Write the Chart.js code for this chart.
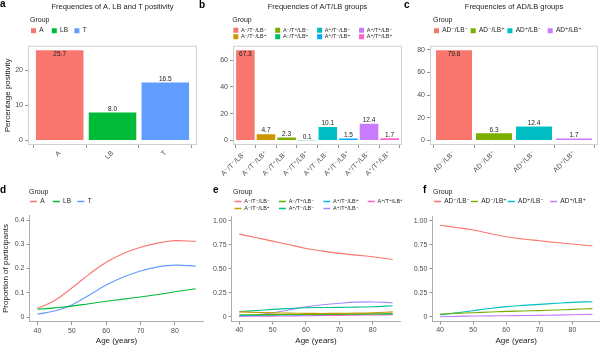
<!DOCTYPE html>
<html>
<head>
<meta charset="utf-8">
<title>A, T and LB positivity</title>
<script src="https://cdn.jsdelivr.net/npm/chart.js@4.4.1/dist/chart.umd.min.js"></script>
<style>
  body { margin: 0; background: #fff; }
  #fig { position: relative; width: 600px; height: 346px; overflow: hidden; font-family: 'Liberation Sans', 'DejaVu Sans', Arial, sans-serif; }
  #fig canvas { position: absolute; }
  .tag { position: absolute; font-weight: bold; font-size: 10px; line-height: 10px; color: #000; }
</style>
</head>
<body>
<div id="fig">
  <canvas id="panelA" width="200" height="176" style="left:0;top:0"></canvas>
  <canvas id="panelB" width="205" height="176" style="left:200px;top:0"></canvas>
  <canvas id="panelC" width="195" height="176" style="left:405px;top:0"></canvas>
  <canvas id="panelD" width="206" height="170" style="left:0;top:176px"></canvas>
  <canvas id="panelE" width="198" height="170" style="left:204px;top:176px"></canvas>
  <canvas id="panelF" width="198" height="170" style="left:402px;top:176px"></canvas>
  <div class="tag" style="left:0;top:-1.5px">a</div>
  <div class="tag" style="left:199px;top:0">b</div>
  <div class="tag" style="left:404px;top:0">c</div>
  <div class="tag" style="left:0;top:185px">d</div>
  <div class="tag" style="left:213px;top:185px">e</div>
  <div class="tag" style="left:423px;top:185px">f</div>
</div>
<script>
const FONT = "'Liberation Sans', 'DejaVu Sans', Arial, sans-serif";
Chart.defaults.font.family = FONT;
Chart.defaults.font.size = 7;
Chart.defaults.color = '#4d4d4d';

// ---- data ----
const groupsA = ['A', 'LB', 'T'];
const pctA = [25.7, 8.0, 16.5];
const colorsA = ['#F8766D', '#00BA38', '#619CFF'];
const ticksA = [0, 10, 20];

const groupsB = ['A⁻/T⁻/LB⁻', 'A⁻/T⁻/LB⁺', 'A⁻/T⁺/LB⁻', 'A⁻/T⁺/LB⁺', 'A⁺/T⁻/LB⁻', 'A⁺/T⁻/LB⁺', 'A⁺/T⁺/LB⁻', 'A⁺/T⁺/LB⁺'];
const pctB = [67.3, 4.7, 2.3, 0.1, 10.1, 1.5, 12.4, 1.7];
const colorsB = ['#F8766D', '#CD9600', '#7CAE00', '#00BE67', '#00BFC4', '#00A9FF', '#C77CFF', '#FF61CC'];
const ticksB = [0, 20, 40, 60];

const groupsC = ['AD⁻/LB⁻', 'AD⁻/LB⁺', 'AD⁺/LB⁻', 'AD⁺/LB⁺'];
const pctC = [79.6, 6.3, 12.4, 1.7];
const colorsC = ['#F8766D', '#7CAE00', '#00BFC4', '#C77CFF'];
const ticksC = [0, 20, 40, 60, 80];

const ages = [40, 45, 50, 55, 60, 65, 70, 75, 80, 86];
const ageTicks = [40, 50, 60, 70, 80];

// d: A, LB, T
const propD = [
  [0.035, 0.068, 0.12, 0.176, 0.226, 0.262, 0.288, 0.305, 0.315, 0.312],
  [0.032, 0.038, 0.045, 0.055, 0.065, 0.074, 0.083, 0.093, 0.104, 0.117],
  [0.012, 0.025, 0.05, 0.09, 0.132, 0.165, 0.19, 0.207, 0.214, 0.21]
];
const ticksD = [0, 0.1, 0.2, 0.3, 0.4];
const tickLabelsD = ['0', '0.1', '0.2', '0.3', '0.4'];

// e: A/T/LB groups (A-/T+/LB+ not shown)
const groupsE = ['A⁻/T⁻/LB⁻', 'A⁻/T⁻/LB⁺', 'A⁻/T⁺/LB⁻', 'A⁺/T⁻/LB⁻', 'A⁺/T⁻/LB⁺', 'A⁺/T⁺/LB⁻', 'A⁺/T⁺/LB⁺'];
const colorsE = ['#F8766D', '#C49A00', '#53B400', '#00C094', '#00B6EB', '#A58AFF', '#FB61D7'];
const propE = [
  [0.861, 0.825, 0.788, 0.75, 0.712, 0.684, 0.66, 0.642, 0.625, 0.597],
  [0.05, 0.045, 0.04, 0.037, 0.035, 0.034, 0.035, 0.037, 0.04, 0.05],
  [0.02, 0.021, 0.022, 0.023, 0.024, 0.025, 0.026, 0.027, 0.028, 0.03],
  [0.052, 0.064, 0.076, 0.086, 0.094, 0.096, 0.097, 0.1, 0.104, 0.115],
  [0.012, 0.014, 0.016, 0.018, 0.02, 0.022, 0.024, 0.026, 0.028, 0.03],
  [0.002, 0.018, 0.04, 0.072, 0.104, 0.124, 0.14, 0.152, 0.154, 0.146],
  [0.004, 0.005, 0.006, 0.008, 0.01, 0.012, 0.014, 0.016, 0.018, 0.02]
];

// f: AD/LB groups
const propF = [
  [0.955, 0.932, 0.906, 0.87, 0.836, 0.812, 0.794, 0.776, 0.76, 0.739],
  [0.028, 0.035, 0.042, 0.049, 0.056, 0.06, 0.064, 0.07, 0.077, 0.084],
  [0.02, 0.04, 0.063, 0.086, 0.105, 0.118, 0.129, 0.14, 0.15, 0.157],
  [0.0, 0.004, 0.007, 0.009, 0.01, 0.012, 0.014, 0.017, 0.021, 0.024]
];
const ticksEF = [0, 0.25, 0.5, 0.75, 1];
const tickLabelsEF = ['0', '0.25', '0.50', '0.75', '1.00'];

// ---- helpers ----
const measure = document.createElement('canvas').getContext('2d');

// pad legend text with spaces so the columns line up like the original
function padLabel(text, size, target) {
  if (!target) return text;
  measure.font = 'normal ' + size + 'px ' + FONT;
  const sp = measure.measureText(' ').width;
  let t = text;
  while (measure.measureText(t + ' ').width <= target + sp / 2) t += ' ';
  return t;
}

// move title over the panel and legend to a fixed spot
const place = {
  id: 'place',
  afterLayout(chart, args, o) {
    const t = chart.titleBlock, lg = chart.legend, a = chart.chartArea;
    if (t && t.options.display) {
      const h = t.height;
      t.top = o.titleTop; t.bottom = o.titleTop + h;
      t.left = a.left; t.right = a.right; t.width = a.right - a.left;
    }
    if (lg) {
      const w = lg.width;
      lg.top = o.legendTop; lg.bottom = o.legendTop + 60;
      lg.left = o.legendLeft; lg.right = o.legendLeft + w;
    }
  }
};

const panelBox = {
  id: 'panelBox',
  afterDatasetsDraw(chart) {
    const { ctx, chartArea: a } = chart;
    ctx.save();
    ctx.strokeStyle = '#d0d0d0';
    ctx.lineWidth = 1;
    ctx.strokeRect(a.left + 0.5, a.top + 0.5, a.right - a.left - 1, a.bottom - a.top - 1);
    ctx.restore();
  }
};

const barLabels = {
  id: 'barLabels',
  afterDatasetsDraw(chart) {
    const ctx = chart.ctx, area = chart.chartArea;
    const meta = chart.getDatasetMeta(0);
    const pts = chart.data.datasets[0].data;
    ctx.save();
    ctx.font = '6.5px ' + FONT;
    ctx.fillStyle = '#222';
    ctx.textAlign = 'center';
    ctx.textBaseline = 'middle';
    meta.data.forEach((bar, i) => {
      let y = bar.y - 3.5;
      if (y < area.top + 6) y = bar.y + 3.5;
      ctx.fillText(pts[i].y.toFixed(1), bar.x, y);
    });
    ctx.restore();
  }
};

const legendTitle = { display: true, text: 'Group', position: 'start', color: '#222', font: { size: 7 }, padding: { top: 0, bottom: 1.5 } };

function barChart(id, cats, vals, colors, yTicks, cfg) {
  const top = Math.max(...vals);
  return new Chart(document.getElementById(id), {
    type: 'bar',
    data: {
      datasets: [{
        data: cats.map((c, i) => ({ x: i + 1, y: vals[i] })),
        backgroundColor: colors,
        borderWidth: 0,
        barPercentage: 0.9,
        categoryPercentage: 1
      }]
    },
    options: {
      responsive: false, animation: false, events: [],
      layout: { padding: { top: 35.7, right: cfg.padRight, bottom: 0, left: 0 } },
      scales: {
        x: {
          type: 'linear', offset: false, min: 0.4, max: cats.length + 0.6,
          afterBuildTicks: s => { s.ticks = cats.map((c, i) => ({ value: i + 1 })); },
          afterFit: s => { s.height = 31; },
          grid: { drawOnChartArea: false, tickLength: 3, color: '#777', lineWidth: 0.8 },
          border: { display: false },
          ticks: { autoSkip: false, minRotation: 45, maxRotation: 45, padding: 1, font: { size: 7 }, callback: v => cats[v - 1] }
        },
        y: {
          min: -0.05 * top, max: 1.05 * top,
          afterBuildTicks: s => { s.ticks = yTicks.map(v => ({ value: v })); },
          afterFit: s => { s.width = cfg.yWidth; },
          grid: { drawOnChartArea: false, tickLength: 3, color: '#777', lineWidth: 0.8 },
          border: { display: false },
          ticks: { padding: 2, font: { size: 7 } },
          title: { display: !!cfg.yTitle, text: cfg.yTitle || '', color: '#222', font: { size: 8 }, padding: { top: 2.7, bottom: 0 } }
        }
      },
      plugins: {
        title: { display: true, text: cfg.title, color: '#222', font: { size: 7.5, weight: 'normal' }, padding: 0 },
        legend: {
          position: 'top', align: 'start', maxHeight: 1,
          title: legendTitle,
          labels: {
            boxWidth: 5, boxHeight: 5, padding: 1, color: '#333', font: { size: cfg.lgSize },
            generateLabels: () => cfg.order.map((i, k) => ({
              text: padLabel(cats[i], cfg.lgSize, cfg.lgText[k]),
              fillStyle: colors[i], strokeStyle: colors[i], lineWidth: 0, hidden: false, index: i
            }))
          }
        },
        tooltip: { enabled: false },
        place: { titleTop: 2.5, legendTop: 16.5, legendLeft: cfg.legendLeft }
      }
    },
    plugins: [place, panelBox, barLabels]
  });
}

function lineChart(id, names, rows, colors, cfg) {
  return new Chart(document.getElementById(id), {
    type: 'line',
    data: {
      datasets: rows.map((r, i) => ({
        label: names[i],
        data: ages.map((a, j) => ({ x: a, y: r[j] })),
        borderColor: colors[i],
        borderWidth: 1.1,
        pointRadius: 0,
        tension: 0.4,
        fill: false
      }))
    },
    options: {
      responsive: false, animation: false, events: [],
      layout: { padding: { top: cfg.padTop, right: cfg.padRight, bottom: 0, left: 0 } },
      scales: {
        x: {
          type: 'linear', min: 37.7, max: 88.3,
          afterBuildTicks: s => { s.ticks = ageTicks.map(v => ({ value: v })); },
          afterFit: s => { s.height = cfg.xHeight; },
          grid: { drawOnChartArea: false, tickLength: 3, color: '#777', lineWidth: 0.8 },
          border: { color: '#999', width: 0.8 },
          ticks: { padding: 1.5, font: { size: 7 } },
          title: { display: true, text: 'Age (years)', color: '#222', font: { size: 8 }, padding: 0 }
        },
        y: {
          min: cfg.yMin, max: cfg.yMax,
          afterBuildTicks: s => { s.ticks = cfg.yTicks.map(v => ({ value: v })); },
          afterFit: s => { s.width = cfg.yWidth; },
          grid: { drawOnChartArea: false, tickLength: 3, color: '#777', lineWidth: 0.8 },
          border: { color: '#999', width: 0.8 },
          ticks: { padding: 2, font: { size: 7 }, callback: (v, i) => cfg.yLabels[i] },
          title: { display: !!cfg.yTitle, text: cfg.yTitle || '', color: '#222', font: { size: 8 }, padding: { top: 1.2, bottom: 0 } }
        }
      },
      plugins: {
        title: { display: false },
        legend: {
          position: 'top', align: 'start', maxHeight: 1,
          title: { ...legendTitle, padding: { top: 0, bottom: 0 } },
          labels: {
            usePointStyle: true, pointStyle: 'line', pointStyleWidth: 7, padding: cfg.lgPad, color: '#333', font: { size: cfg.lgSize },
            generateLabels: () => cfg.order.map((i, k) => ({
              text: padLabel(names[i], cfg.lgSize, cfg.lgText[k]),
              fillStyle: colors[i], strokeStyle: colors[i], lineWidth: 1.5, pointStyle: 'line', hidden: false, datasetIndex: i
            }))
          }
        },
        tooltip: { enabled: false },
        place: { legendTop: cfg.legendTop, legendLeft: cfg.legendLeft }
      }
    },
    plugins: [place]
  });
}

// ---- panels ----
barChart('panelA', groupsA, pctA, colorsA, ticksA, {
  title: 'Frequencies of A, LB and T positivity', yTitle: 'Percentage positivity',
  yWidth: 28, padRight: 3, legendLeft: 30, lgSize: 6.5,
  order: [0, 1, 2], lgText: [10.75, 13.75, 0]
});

barChart('panelB', groupsB, pctB, colorsB, ticksB, {
  title: 'Frequencies of A/T/LB groups',
  yWidth: 33, padRight: 3, legendLeft: 32.3, lgSize: 5.5,
  order: [0, 2, 4, 6, 1, 3, 5, 7], lgText: [33.5, 33.5, 33.5, 33.5, 33.5, 33.5, 33.5, 0]
});

barChart('panelC', groupsC, pctC, colorsC, ticksC, {
  title: 'Frequencies of AD/LB groups',
  yWidth: 25, padRight: 2, legendLeft: 28, lgSize: 6.5,
  order: [0, 1, 2, 3], lgText: [27.75, 27.5, 30.75, 0]
});

lineChart('panelD', groupsA, propD, colorsA, {
  yMin: -0.02, yMax: 0.42, yTicks: ticksD, yLabels: tickLabelsD, yTitle: 'Proportion of participants',
  yWidth: 29.5, padRight: 2.5, padTop: 38.2, xHeight: 24.1,
  legendTop: 12.8, legendLeft: 29, lgSize: 6.5, lgPad: 1,
  order: [0, 1, 2], lgText: [11.75, 13.75, 0]
});

lineChart('panelE', groupsE, propE, colorsE, {
  yMin: -0.05, yMax: 1.05, yTicks: ticksEF, yLabels: tickLabelsEF,
  yWidth: 27.6, padRight: 1.6, padTop: 39, xHeight: 24.5,
  legendTop: 12.8, legendLeft: 29, lgSize: 5.5, lgPad: 1.5,
  order: [0, 2, 4, 6, 1, 3, 5], lgText: [33, 33, 33, 33, 33, 33, 0]
});

lineChart('panelF', groupsC, propF, colorsC, {
  yMin: -0.05, yMax: 1.05, yTicks: ticksEF, yLabels: tickLabelsEF,
  yWidth: 30.4, padRight: 0, padTop: 39.2, xHeight: 24.5,
  legendTop: 12.8, legendLeft: 31, lgSize: 6.5, lgPad: 1,
  order: [0, 1, 2, 3], lgText: [26.45, 26.45, 31.75, 0]
});
</script>
</body>
</html>
